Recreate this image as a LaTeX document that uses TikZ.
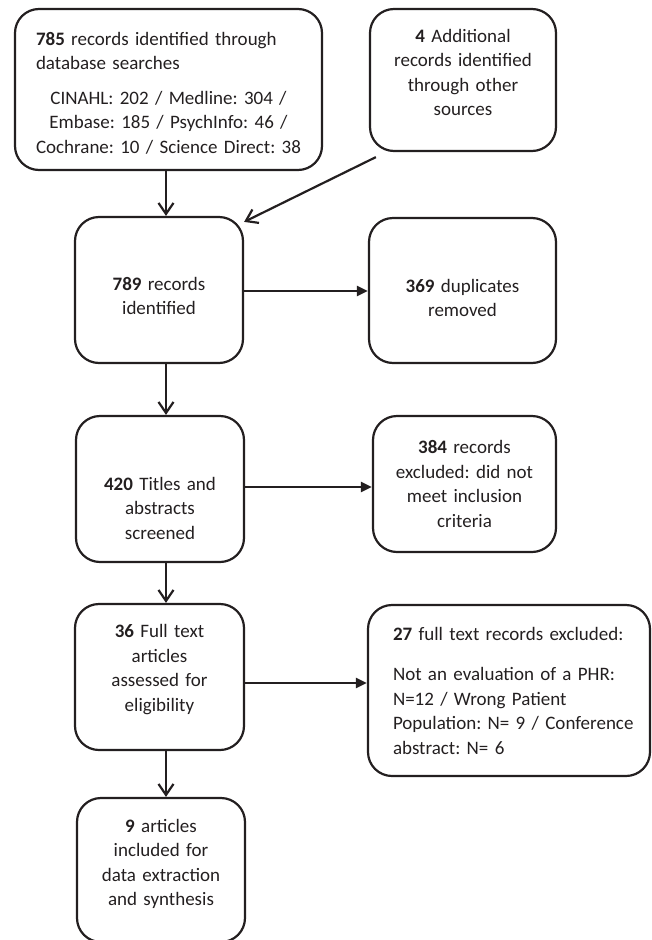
\documentclass[tikz,border=0pt]{standalone}
\usepackage{fontspec}
\setmainfont{Carlito}
\usetikzlibrary{arrows.meta}
\definecolor{ink}{RGB}{35,31,32}
\frenchspacing
\hyphenpenalty=10000

\begin{document}
\begin{tikzpicture}[x=1pt, y=-1pt,
    box/.style={draw=ink, line width=2.2pt, rounded corners=24pt, align=center,
        inner xsep=0pt, inner ysep=2pt, text=ink, font=\fontsize{19}{24.5}\selectfont},
    down/.style={draw=ink, line width=2.2pt, -{Straight Barb[length=11pt,width=15pt]}},
    side/.style={draw=ink, line width=2.2pt, -{Triangle[length=11pt,width=10pt]}}]
    \useasboundingbox (0,0) rectangle (651,940);

    % Identification
    \node[box, minimum width=307pt, minimum height=161pt, text width=265pt, align=left] (db) at (168.5,89.5)
        {\rule{0pt}{20pt}\textbf{785} records identified through\\database searches\par\vspace{10pt}
         \centering CINAHL: 202 / Medline: 304 /\\Embase: 185 / PsychInfo: 46 /\\Cochrane: 10 / Science Direct: 38};
    \node[box, minimum width=186pt, minimum height=142pt, text width=170pt] (other) at (463,80)
        {\textbf{4} Additional\\records identified\\through other\\sources\rule[-15pt]{0pt}{15pt}};

    % Screening
    \node[box, minimum width=168pt, minimum height=146pt, text width=150pt] (found) at (159,290)
        {\rule{0pt}{25pt}\textbf{789} records\\identified};
    \node[box, minimum width=187pt, minimum height=145pt, text width=170pt] (dupl) at (462.5,290.5)
        {\rule{0pt}{28pt}\textbf{369} duplicates\\removed};
    \node[box, minimum width=168pt, minimum height=146pt, text width=150pt] (screen) at (160,489)
        {\rule{0pt}{52pt}\textbf{420} Titles and\\abstracts\\screened};
    \node[box, minimum width=183pt, minimum height=136pt, text width=170pt] (excl) at (464.5,484)
        {\textbf{384} records\\excluded: did not\\meet inclusion\\criteria};

    % Eligibility and inclusion
    \node[box, minimum width=169pt, minimum height=146pt, text width=150pt] (full) at (159.5,677)
        {\textbf{36} Full text\\articles\\assessed for\\eligibility\rule[-18pt]{0pt}{18pt}};
    \node[box, minimum width=282pt, minimum height=171pt, text width=264pt, align=left] (fexcl) at (509,690.5)
        {\leftskip=16pt\textbf{27} full text records excluded:\par\vspace{16pt}
         Not an evaluation of a PHR:\\N=12 / Wrong Patient\\Population: N= 9 / Conference\\abstract: N= 6\par};
    \node[box, minimum width=168pt, minimum height=144pt, text width=150pt] (incl) at (161,870)
        {\textbf{9} articles\\included for\\data extraction\\and synthesis\rule[-15pt]{0pt}{15pt}};

    % connectors
    \coordinate (ax) at (166,0);
    \foreach \a/\b in {db/found, found/screen, screen/full, full/incl}
        \draw[down] (\a.south -| ax) -- (\b.north -| ax);
    \draw[down] ([shift={(7pt,-5pt)}]other.south west) -- ([yshift=-6pt]found.north east);
    \foreach \a/\b/\y in {found/dupl/291, screen/excl/487, full/fexcl/683}{
        \coordinate (lv) at (0,\y);
        \draw[side] (\a.east |- lv) -- (\b.west |- lv);
    }
\end{tikzpicture}
\end{document}
